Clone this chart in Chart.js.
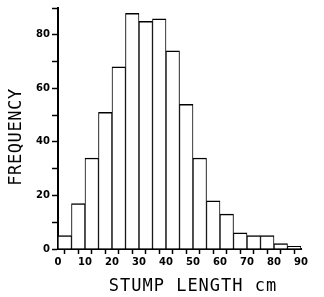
<!DOCTYPE html>
<html>
<head>
<meta charset="utf-8">
<script src="https://cdn.jsdelivr.net/npm/chart.js@4/dist/chart.umd.min.js"></script>
<style>
html,body{margin:0;padding:0;background:#fff;}
#wrap{width:324px;height:297px;position:relative;}
</style>
</head>
<body>
<div id="wrap"><canvas id="c" width="324" height="297"></canvas></div>
<script>
// Data
const binStarts = [0,5,10,15,20,25,30,35,40,45,50,55,60,65,70,75,80,85];
const frequency = [5,17,34,51,68,88,85,86,74,54,34,18,13,6,5,5,2,1];
const binWidth = 5;
const xTickValues = [0,10,20,30,40,50,60,70,80,90];
const yTickValues = [0,20,40,60,80];
const xTitle = 'STUMP LENGTH cm';
const yTitle = 'FREQUENCY';

const points = binStarts.map((s, i) => ({x: s + binWidth / 2, y: frequency[i]}));

const titlePlugin = {
  id: 'axisTitles',
  afterDraw(chart) {
    const ctx = chart.ctx;
    ctx.save();
    ctx.fillStyle = '#000';
    ctx.font = '17px "DejaVu Sans Mono"';
    ctx.textBaseline = 'middle';
    ctx.textAlign = 'center';
    try { ctx.letterSpacing = '1px'; } catch (e) {}
    ctx.fillText(xTitle, 193, 287);
    ctx.translate(17, 137);
    ctx.rotate(-Math.PI / 2);
    try { ctx.letterSpacing = '0.6px'; } catch (e) {}
    ctx.fillText(yTitle, 0, 0);
    ctx.restore();
  }
};

new Chart(document.getElementById('c'), {
  type: 'bar',
  data: {
    datasets: [{
      data: points,
      backgroundColor: '#fff',
      borderColor: '#000',
      borderWidth: {top: 1.5, left: 1, right: 1, bottom: 0},
      barPercentage: 1,
      categoryPercentage: 1
    }]
  },
  options: {
    responsive: false,
    animation: false,
    devicePixelRatio: 1,
    layout: {padding: {top: 7, right: 23, left: 0, bottom: 0}},
    plugins: {legend: {display: false}, tooltip: {enabled: false}},
    scales: {
      x: {
        type: 'linear',
        min: 0,
        max: 90,
        offset: false,
        afterFit(scale) { scale.height = 48; },
        border: {display: true, color: '#000', width: 2},
        grid: {display: true, drawOnChartArea: false, drawTicks: true, tickLength: 5, tickColor: '#000', tickWidth: 1.5},
        ticks: {
          stepSize: 5,
          autoSkip: false,
          maxRotation: 0,
          padding: 2,
          color: '#000',
          font: {family: '"DejaVu Sans"', size: 10, weight: 'bold'},
          callback: v => xTickValues.includes(v) ? String(v) : ''
        }
      },
      y: {
        min: 0,
        max: 90,
        afterFit(scale) { scale.width = 58; },
        border: {display: true, color: '#000', width: 2},
        grid: {display: true, drawOnChartArea: false, drawTicks: true, tickLength: 6, tickColor: '#000', tickWidth: 1.5},
        ticks: {
          stepSize: 10,
          autoSkip: false,
          padding: 2,
          color: '#000',
          font: {family: '"DejaVu Sans"', size: 10, weight: 'bold'},
          callback: v => yTickValues.includes(v) ? String(v) : ''
        }
      }
    }
  },
  plugins: [titlePlugin]
});
</script>
</body>
</html>
